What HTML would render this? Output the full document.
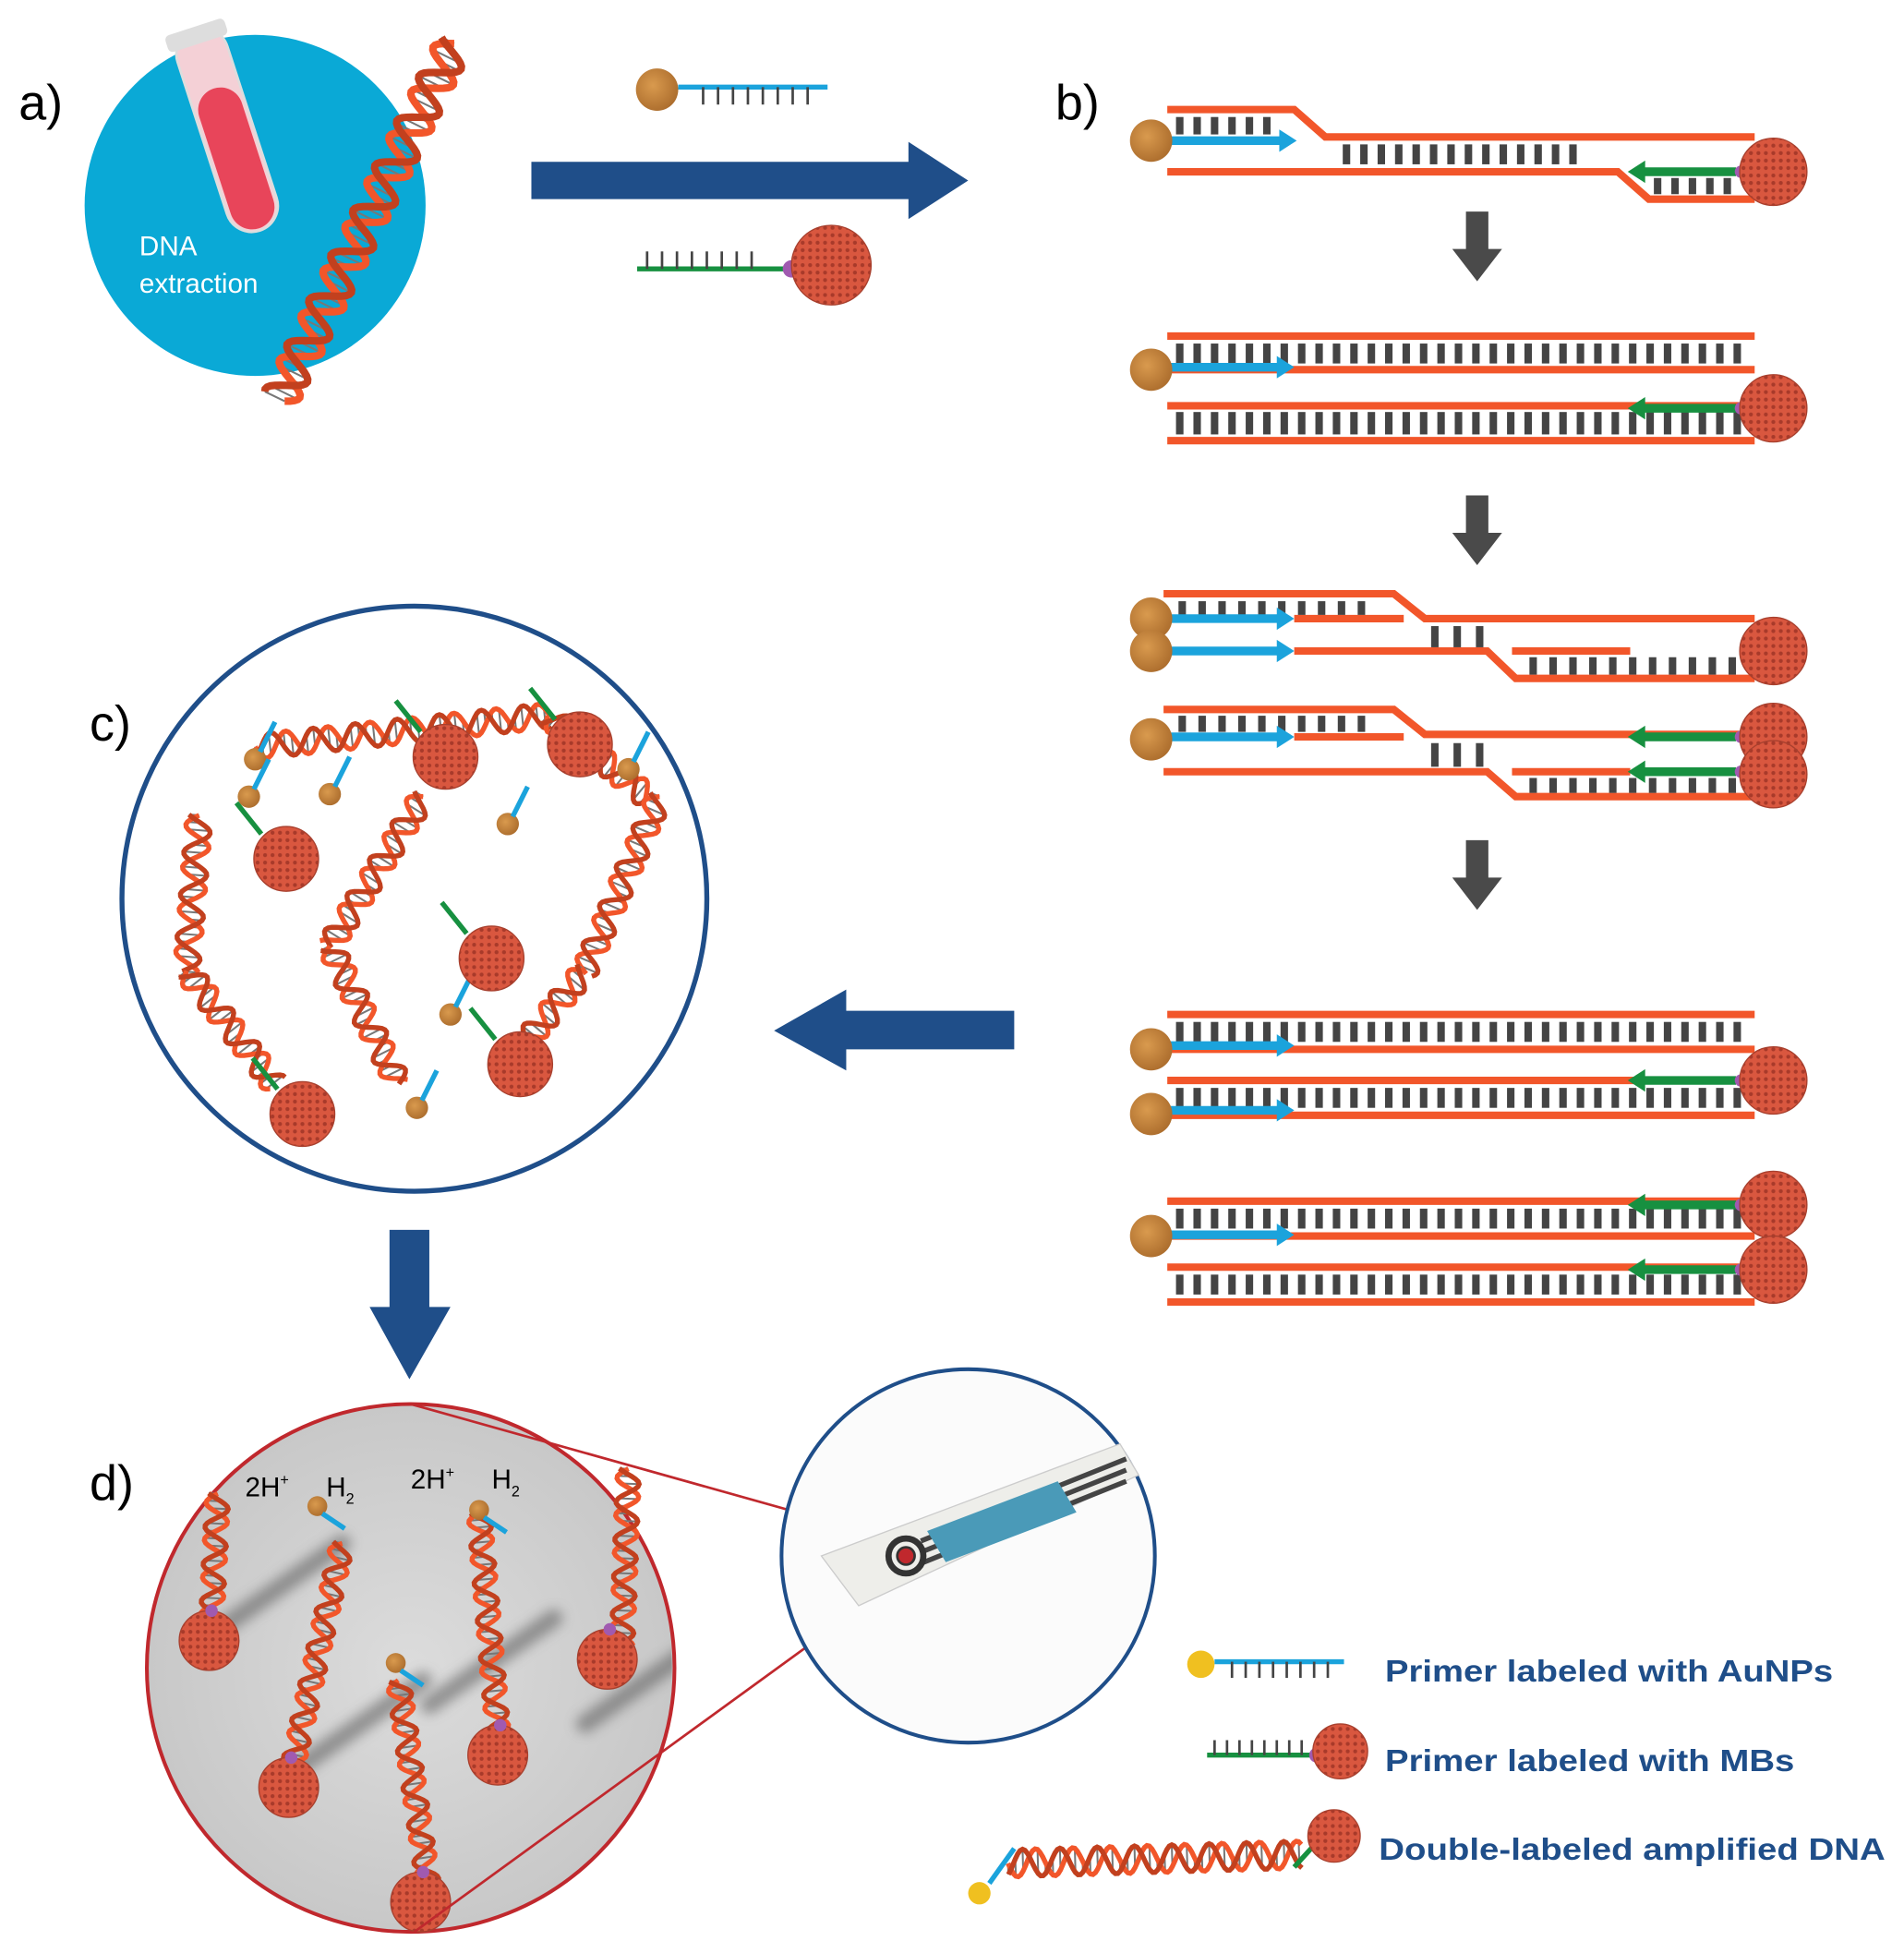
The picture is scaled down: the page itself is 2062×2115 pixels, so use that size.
<!DOCTYPE html>
<html><head><meta charset="utf-8"><style>
html,body{margin:0;padding:0;background:#fff}
svg{display:block}
text{font-family:"Liberation Sans",sans-serif}
</style></head><body>
<svg id="s" width="2062" height="2115" viewBox="0 0 1530 1569" preserveAspectRatio="none" xmlns="http://www.w3.org/2000/svg">
<defs>
<pattern id="np" width="6" height="6" patternUnits="userSpaceOnUse"><rect width="6" height="6" fill="#d9573f"/><circle cx="3" cy="3" r="1.6" fill="#a83a2a"/></pattern>
<radialGradient id="au" cx="0.4" cy="0.4" r="0.7"><stop offset="0" stop-color="#d99a4e"/><stop offset="1" stop-color="#a8692a"/></radialGradient>
<radialGradient id="gr" cx="0.5" cy="0.5" r="0.6"><stop offset="0" stop-color="#dcdcdc"/><stop offset="1" stop-color="#c4c4c4"/></radialGradient>
<filter id="bl" x="-50%" y="-50%" width="200%" height="200%"><feGaussianBlur stdDeviation="5"/></filter>
<clipPath id="dc"><circle cx="330" cy="1340" r="210"/></clipPath>
</defs>
<g id="g"></g>
<text x="15" y="96" font-size="40">a)</text>
<text x="848" y="96" font-size="40">b)</text>
<text x="72" y="595" font-size="40">c)</text>
<text x="72" y="1205" font-size="40">d)</text>
<text x="112" y="205" font-size="22" fill="#fff">DNA</text>
<text x="112" y="235" font-size="22" fill="#fff">extraction</text>
<text x="197" y="1202" font-size="22">2H<tspan font-size="12" dy="-9">+</tspan><tspan dy="9" dx="30">H</tspan><tspan font-size="12" dy="6">2</tspan></text>
<text x="330" y="1196" font-size="22">2H<tspan font-size="12" dy="-9">+</tspan><tspan dy="9" dx="30">H</tspan><tspan font-size="12" dy="6">2</tspan></text>
<g font-size="25" font-weight="bold" fill="#1f4e89">
<text x="1113" y="1351" textLength="360" lengthAdjust="spacingAndGlyphs">Primer labeled with AuNPs</text>
<text x="1113" y="1423" textLength="329" lengthAdjust="spacingAndGlyphs">Primer labeled with MBs</text>
<text x="1108" y="1494" textLength="407" lengthAdjust="spacingAndGlyphs">Double-labeled amplified DNA</text>
</g>
</svg>
<script>
var g=document.getElementById('g'),h='';
function L(x1,y1,x2,y2,c,w,ex){h+='<line x1="'+x1+'" y1="'+y1+'" x2="'+x2+'" y2="'+y2+'" stroke="'+c+'" stroke-width="'+w+'" '+(ex||'')+'/>';}
function P(d,c,w,f){h+='<path d="'+d+'" stroke="'+(c||'none')+'" stroke-width="'+(w||0)+'" fill="'+(f||'none')+'"/>';}
function C(x,y,r,f,s,w){h+='<circle cx="'+x+'" cy="'+y+'" r="'+r+'" fill="'+f+'" stroke="'+(s||'none')+'" stroke-width="'+(w||0)+'"/>';}
var O='#f2562a',K='#444',B='#1ba3dc',G='#179040',N='#1f4e89';
function ticks(x1,x2,y1,y2,st){st=st||14;for(var x=x1;x<=x2;x+=st)L(x,y1,x,y2,K,6);}
function orS(d){P(d,O,6);}
function au(x,y,r){C(x,y,r||17,'url(#au)');}
function np(x,y,r){C(x,y,r||26,'url(#np)','#a8402e',1);}
function barR(x1,x2,y){L(x1,y,x2-12,y,B,7);P('M'+(x2-14)+' '+(y-9)+' L'+x2+' '+y+' L'+(x2-14)+' '+(y+9)+'Z',0,0,B);}
function barL(x1,x2,y){L(x1,y,x2+12,y,G,7);P('M'+(x2+14)+' '+(y-9)+' L'+x2+' '+y+' L'+(x2+14)+' '+(y+9)+'Z',0,0,G);C(x1+4,y,5,'#a05ab0');}
C(205,165,137,'#0aa9d6');
h+='<g transform="rotate(-18 180 100)"><rect x="160" y="20" width="42" height="170" rx="21" fill="#f4d0d6" stroke="#ddd" stroke-width="2"/><rect x="163" y="70" width="36" height="118" rx="18" fill="#e8455a"/><rect x="156" y="18" width="50" height="14" rx="4" fill="#ddd"/></g>';
function helix(x1,y1,x2,y2,amp,per,w){var dx=x2-x1,dy=y2-y1,len=Math.hypot(dx,dy),ux=dx/len,uy=dy/len,nx=-uy,ny=ux,n=Math.ceil(len/2),a='',b='';
 for(var i=0;i<=n;i++){var t=i*2,ph=t/per*2*Math.PI,s1=Math.sin(ph)*amp,s2=Math.sin(ph+2.2)*amp,px=x1+ux*t,py=y1+uy*t;
  a+=(i?'L':'M')+(px+nx*s1).toFixed(1)+' '+(py+ny*s1).toFixed(1);b+=(i?'L':'M')+(px+nx*s2).toFixed(1)+' '+(py+ny*s2).toFixed(1);
  if(i%3==0){L((px+nx*s1).toFixed(1),(py+ny*s1).toFixed(1),(px+nx*s2).toFixed(1),(py+ny*s2).toFixed(1),'#777',1.5);}}
 P(a,O,w||4);P(b,'#c2401e',w||4);}
helix(365,35,225,320,14,40,6);
au(528,72,17);L(545,70,665,70,B,4);for(var x=565;x<=655;x+=12)L(x,70,x,84,K,2);
P('M427 130 H730 V114 L778 145 L730 176 V160 H427Z',0,0,N);
L(512,216,632,216,G,4);for(x=520;x<=610;x+=12)L(x,216,x,202,K,2);C(636,216,7,'#a05ab0');np(668,213,32);
orS('M938 88 H1040 L1065 110 H1410');orS('M938 138 H1300 L1325 160 H1410');
ticks(948,1030,94,108);ticks(1082,1270,116,132);ticks(1332,1395,143,156);
barR(940,1042,113);barL(1395,1308,138);au(925,113);np(1425,138,27);
function dn(x,y){P('M'+(x-9)+' '+y+' H'+(x+9)+' V'+(y+30)+' H'+(x+20)+' L'+x+' '+(y+56)+' L'+(x-20)+' '+(y+30)+' H'+(x-9)+'Z',0,0,'#4a4a4a');}
dn(1187,170);dn(1187,398);dn(1187,675);
orS('M938 270 H1410');orS('M938 297 H1410');ticks(948,1400,276,292);barR(940,1040,295);au(925,297);
orS('M938 326 H1410');orS('M938 354 H1410');ticks(948,1400,331,349);barL(1395,1308,328);np(1425,328,27);
orS('M935 477 H1120 L1145 497 H1410');orS('M1040 497 H1128');ticks(950,1105,483,494,16);
barR(940,1040,497);barR(940,1040,523);orS('M1040 523 H1195 L1218 545 H1410');orS('M1215 523 H1310');
ticks(1153,1193,503,520,18);ticks(1232,1395,528,542,16);au(925,497);au(925,523);np(1425,523,27);
orS('M935 570 H1120 L1145 590 H1410');orS('M1040 592 H1128');ticks(950,1105,575,588,16);barR(940,1040,592);au(925,594);
barL(1395,1308,592);ticks(1153,1193,597,616,18);orS('M935 620 H1195 L1218 640 H1410');orS('M1215 620 H1310');barL(1395,1308,620);
ticks(1232,1395,625,637,16);np(1425,592,27);np(1425,622,27);
function dup(y1,y2){orS('M938 '+y1+' H1410');orS('M938 '+y2+' H1410');ticks(948,1400,y1+6,y2-6);}
dup(815,843);barR(940,1040,840);au(925,843);
dup(868,896);barL(1395,1308,868);np(1425,868,27);barR(940,1040,892);au(925,895);
dup(965,993);barL(1395,1308,968);np(1425,968,27);barR(940,1040,992);au(925,993);
dup(1018,1046);barL(1395,1308,1020);np(1425,1020,27);
P('M815 812 V843 H680 V860 L622 828 L680 795 V812Z',0,0,N);
P('M313 988 H345 V1050 H362 L329 1108 L297 1050 H313Z',0,0,N);
C(333,722,235,'#fff',N,4);
helix(205,600,440,575,10,34,4);helix(440,575,520,640,10,34,4);
helix(160,655,150,780,10,34,4);helix(150,780,220,870,10,34,4);
helix(340,640,265,760,10,34,4);helix(265,760,320,870,10,34,4);
helix(530,640,470,780,10,34,4);helix(470,780,420,840,10,34,4);
var cp=[[205,610],[265,638],[200,640],[408,662],[505,618],[362,815],[335,890]];
cp.forEach(function(p){au(p[0],p[1],9);L(p[0]+4,p[1]-6,p[0]+16,p[1]-30,B,4);});
[[466,598],[358,608],[230,690],[395,770],[418,855],[243,895]].forEach(function(p){np(p[0],p[1],26);L(p[0]-20,p[1]-20,p[0]-40,p[1]-45,G,4);});
C(330,1340,212,'url(#gr)','#c0282d',3);
h+='<g clip-path="url(#dc)">';
[[175,1310],[345,1370],[470,1385],[240,1420]].forEach(function(p){h+='<path d="M'+p[0]+' '+p[1]+' L'+(p[0]+100)+' '+(p[1]-70)+'" stroke="#555" stroke-width="14" stroke-linecap="round" opacity="0.55" filter="url(#bl)"/>';});
h+='</g>';
helix(175,1200,170,1300,9,30,4);helix(275,1240,235,1420,9,30,4);helix(385,1215,400,1390,9,30,4);
helix(320,1350,345,1520,9,30,4);helix(505,1180,500,1320,9,30,4);
[[168,1318],[232,1436],[400,1410],[338,1528],[488,1333]].forEach(function(p){np(p[0],p[1],24);C(p[0]+2,p[1]-24,5,'#a05ab0');});
[[255,1210],[385,1213],[318,1336]].forEach(function(p){au(p[0],p[1],8);L(p[0]+4,p[1]+6,p[0]+22,p[1]+18,B,4);});
L(330,1128,730,1240,'#c0282d',2);L(333,1552,735,1260,'#c0282d',2);
C(778,1250,150,'#fbfbfb',N,3);
P('M660 1250 L900 1160 L915 1185 L690 1290Z','#ccc',1,'#eeeeea');
for(var i=0;i<3;i++)L(740,1238+i*9,905,1172+i*9,'#444',4);
P('M745 1230 L850 1190 L865 1215 L760 1255Z',0,0,'#4a9ab8');
C(728,1250,14,'none','#333',5);C(728,1250,7,'#c0282d','#333',2);
C(965,1337,11,'#f0c020');L(976,1335,1080,1335,B,4);for(x=990;x<=1070;x+=11)L(x,1335,x,1348,K,2);
L(970,1410,1055,1410,G,4);for(x=976;x<=1050;x+=10)L(x,1410,x,1398,K,2);C(1058,1410,6,'#a05ab0');np(1077,1407,22);
helix(810,1497,1045,1490,11,30,4);C(787,1521,9,'#f0c020');L(795,1513,815,1485,B,4);L(1040,1500,1060,1478,G,4);np(1072,1475,21);
g.innerHTML=h;
</script>
</body></html>
